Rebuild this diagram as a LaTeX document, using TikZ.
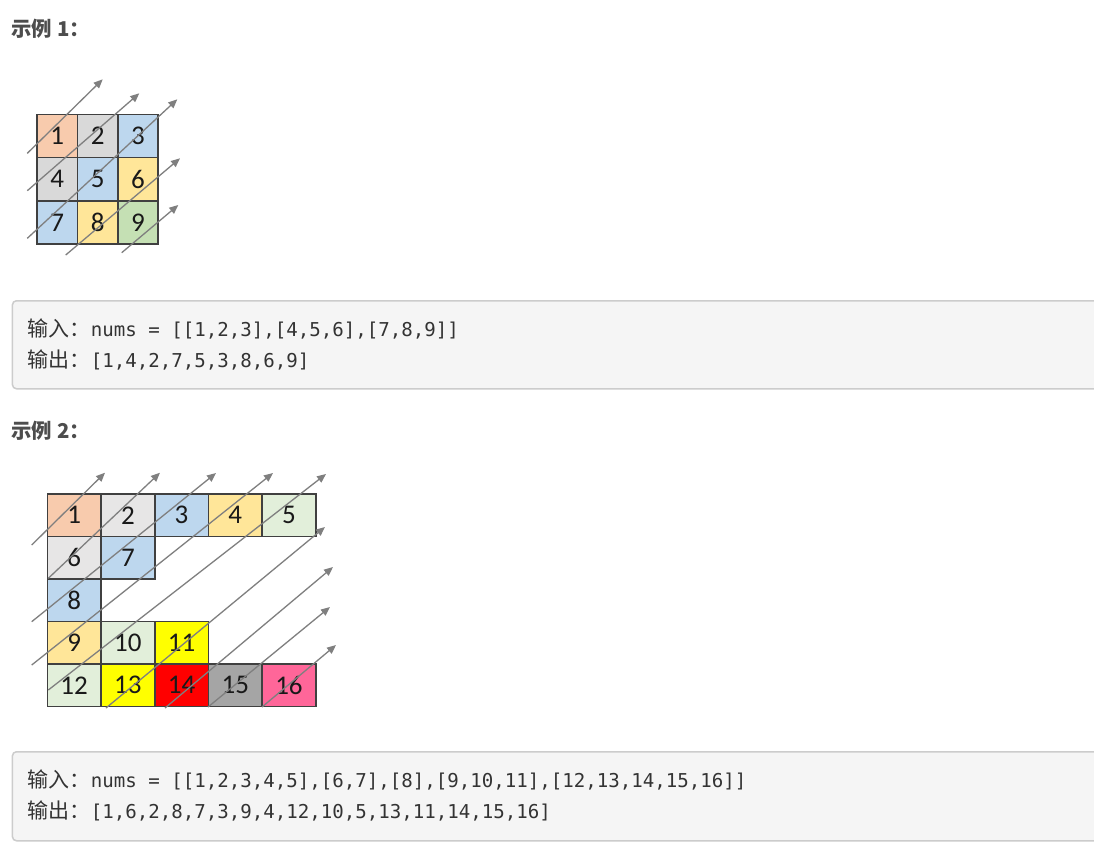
\documentclass[tikz,border=0pt]{standalone}
\usepackage{fontspec}
\setmainfont{Carlito}
\newfontfamily\cjk{Noto Sans CJK SC}
\newfontfamily\monof{DejaVu Sans Mono}
\newfontfamily\carl{Carlito}
\usetikzlibrary{arrows.meta}
\definecolor{titlegray}{HTML}{4D4D4D}
\definecolor{txt}{HTML}{333333}
\definecolor{boxfill}{HTML}{F5F5F5}
\definecolor{boxline}{HTML}{CCCCCC}
\definecolor{cellline}{HTML}{404040}
\definecolor{arrowgray}{HTML}{7F7F7F}
\definecolor{cpeach}{HTML}{F8CBAD}
\definecolor{cgrayA}{HTML}{D9D9D9}
\definecolor{cgrayB}{HTML}{E7E6E6}
\definecolor{cblue}{HTML}{BDD7EE}
\definecolor{cyel}{HTML}{FFE699}
\definecolor{cgreenA}{HTML}{C5E0B4}
\definecolor{cgreenB}{HTML}{E2EFDA}
\definecolor{cyellow}{HTML}{FFFF00}
\definecolor{cred}{HTML}{FF0000}
\definecolor{cmid}{HTML}{A5A5A5}
\definecolor{cpink}{HTML}{FF6699}
\begin{document}
\begin{tikzpicture}[x=0.5pt,y=-0.5pt,
  title/.style={anchor=base west, text=titlegray, font=\cjk\bfseries\fontsize{10.2}{12}\selectfont, inner sep=0pt},
  codebox/.style={draw=boxline, fill=boxfill, line width=0.75pt, rounded corners=2pt},
  codeline/.style={anchor=base west, text=txt, inner sep=0pt, font=\monof\fontsize{9.55}{11}\selectfont},
  cellbase/.style={draw=cellline, line width=0.8pt, inner sep=0pt, outer sep=0pt, text=black!90, font=\carl\fontsize{13.5}{15}\selectfont},
  cellA/.style={cellbase, minimum width=20.2pt, minimum height=21.6pt},
  cellB/.style={cellbase, minimum width=26.85pt, minimum height=21.25pt},
  diag/.style={draw=arrowgray, line width=0.65pt, -{Triangle[length=4.5pt,width=3.8pt]}}
]
\clip (0,0) rectangle (1094,843);
\fill[white] (0,0) rectangle (1094,843);

% ---------- Example 1 ----------
\node[title] (t1) at (11,36) {示例\hspace{2.5pt}1：};

\node[cellA, fill=cpeach]  (a1) at (57.2,136.0) {1};
\node[cellA, fill=cgrayA]  (a2) at (97.6,136.0) {2};
\node[cellA, fill=cblue]   (a3) at (138.0,136.0) {3};
\node[cellA, fill=cgrayA]  (a4) at (57.2,179.2) {4};
\node[cellA, fill=cblue]   (a5) at (97.6,179.2) {5};
\node[cellA, fill=cyel]    (a6) at (138.0,179.2) {6};
\node[cellA, fill=cblue]   (a7) at (57.2,222.4) {7};
\node[cellA, fill=cyel]    (a8) at (97.6,222.4) {8};
\node[cellA, fill=cgreenA] (a9) at (138.0,222.4) {9};

\coordinate (s1) at (27.3,153.3); \coordinate (e1) at (102.7,79.3);
\coordinate (s2) at (27.3,190.7); \coordinate (e2) at (139.3,93.3);
\coordinate (s3) at (27.3,238.3); \coordinate (e3) at (177.3,99.3);
\coordinate (s4) at (65.7,255.0); \coordinate (e4) at (180.0,158.3);
\coordinate (s5) at (121.7,252.7); \coordinate (e5) at (178.3,205.0);
\foreach \k in {1,...,5} {\draw[diag] (s\k) -- (e\k);}

\node[codebox, minimum width=549pt, minimum height=44pt, anchor=north west, inner sep=0pt] (b1) at (11.7,300) {};
\node[codeline] (i1) at (27.5,336.5) {{\cjk\fontsize{10.5}{12}\selectfont 输入：}nums = [[1,2,3],[4,5,6],[7,8,9]]};
\node[codeline] (o1) at (27.5,367) {{\cjk\fontsize{10.5}{12}\selectfont 输出：}[1,4,2,7,5,3,8,6,9]};

% ---------- Example 2 ----------
\node[title] (t2) at (11,438) {示例\hspace{2.5pt}2：};

\node[cellB, fill=cpeach]  (b01) at (74.15,515.25) {1};
\node[cellB, fill=cgrayB]  (b02) at (127.85,515.25) {2};
\node[cellB, fill=cblue]   (b03) at (181.55,515.25) {3};
\node[cellB, fill=cyel]    (b04) at (235.25,515.25) {4};
\node[cellB, fill=cgreenB] (b05) at (288.95,515.25) {5};
\node[cellB, fill=cgrayB]  (b06) at (74.15,557.75) {6};
\node[cellB, fill=cblue]   (b07) at (127.85,557.75) {7};
\node[cellB, fill=cblue]   (b08) at (74.15,600.25) {8};
\node[cellB, fill=cyel]    (b09) at (74.15,642.75) {9};
\node[cellB, fill=cgreenB] (b10) at (127.85,642.75) {10};
\node[cellB, fill=cyellow] (b11) at (181.55,642.75) {11};
\node[cellB, fill=cgreenB] (b12) at (74.15,685.25) {12};
\node[cellB, fill=cyellow] (b13) at (127.85,685.25) {13};
\node[cellB, fill=cred]    (b14) at (181.55,685.25) {14};
\node[cellB, fill=cmid]    (b15) at (235.25,685.25) {15};
\node[cellB, fill=cpink]   (b16) at (288.95,685.25) {16};

\coordinate (p1) at (31.7,545.0);  \coordinate (q1) at (105.0,472.7);
\coordinate (p2) at (48.3,578.3);  \coordinate (q2) at (160.0,472.7);
\coordinate (p3) at (31.7,621.7);  \coordinate (q3) at (216.0,473.0);
\coordinate (p4) at (31.7,665.0);  \coordinate (q4) at (273.0,473.0);
\coordinate (p5) at (48.3,690.0);  \coordinate (q5) at (326.0,474.0);
\coordinate (p6) at (106.0,708.0); \coordinate (q6) at (325.0,527.0);
\coordinate (p7) at (165.0,708.0); \coordinate (q7) at (333.0,567.0);
\coordinate (p8) at (208.0,707.0); \coordinate (q8) at (330.0,607.0);
\coordinate (p9) at (262.0,707.0); \coordinate (q9) at (336.0,645.0);
\foreach \k in {1,...,9} {\draw[diag] (p\k) -- (q\k);}

\node[codebox, minimum width=549pt, minimum height=44.5pt, anchor=north west, inner sep=0pt] (b2) at (11.7,751) {};
\node[codeline] (i2) at (27.5,787) {{\cjk\fontsize{10.5}{12}\selectfont 输入：}nums = [[1,2,3,4,5],[6,7],[8],[9,10,11],[12,13,14,15,16]]};
\node[codeline] (o2) at (27.5,818) {{\cjk\fontsize{10.5}{12}\selectfont 输出：}[1,6,2,8,7,3,9,4,12,10,5,13,11,14,15,16]};
\end{tikzpicture}
\end{document}
